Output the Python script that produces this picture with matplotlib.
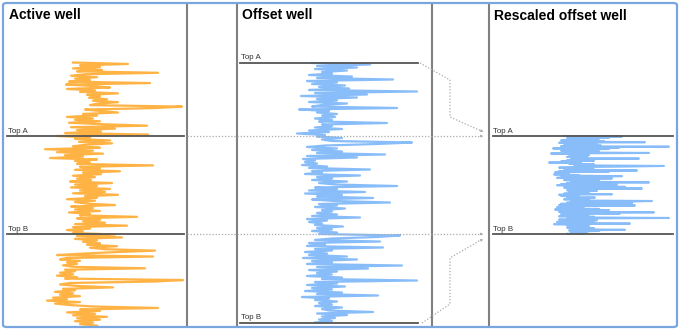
import numpy as np
import matplotlib.pyplot as plt
from matplotlib.patches import FancyBboxPatch, FancyArrowPatch
from matplotlib.lines import Line2D

plt.rcParams['font.family'] = ['Liberation Sans', 'DejaVu Sans']

# formation tops (m)
active_top_a, active_top_b = 2150, 2250
offset_top_a, offset_top_b = 2000, 2260

# gamma ray logs, one sample every 1.5 m
active_start, active_step = 2075, 1.5
active_gr = [
    68, 123, 75, 95, 68, 97, 72, 153, 80, 66,
    92, 70, 85, 64, 145, 61, 88, 105, 62, 90,
    75, 113, 82, 95, 84, 102, 88, 113, 92, 85,
    177, 150, 80, 95, 113, 78, 92, 62, 88, 70,
    95, 64, 98, 142, 66, 110, 72, 96, 60, 143,
    52, 85, 70, 105, 74, 107, 80, 68, 95, 40,
    88, 52, 98, 60, 78, 45, 92, 70, 85, 72,
    148, 75, 95, 70, 115, 78, 96, 68, 90, 72,
    86, 65, 107, 70, 92, 66, 105, 75, 100, 68,
    113, 80, 92, 62, 90, 70, 82, 110, 66, 88,
    70, 95, 64, 85, 75, 132, 72, 95, 78, 100,
    70, 122, 68, 85, 62, 78, 68, 110, 72, 117,
    70, 92, 78, 95, 82, 112, 85, 100, 150, 110,
    78, 52, 148, 62, 55, 75, 62, 72, 58, 68,
    140, 60, 70, 55, 68, 52, 72, 60, 178, 150,
    65, 55, 72, 108, 58, 70, 50, 68, 55, 75,
    48, 62, 42, 75, 50, 65, 88, 153, 75, 95,
    62, 90, 68, 102, 72, 95, 70, 88, 75, 92,
]

offset_start, offset_step = 2000, 1.5
offset_gr = [
    75, 133, 80, 120, 78, 110, 85, 95, 72, 115,
    80, 156, 70, 100, 75, 108, 82, 112, 72, 180,
    78, 130, 64, 120, 80, 100, 72, 110, 85, 75,
    160, 62, 92, 80, 100, 85, 98, 78, 95, 82,
    150, 85, 95, 78, 105, 72, 92, 60, 88, 80,
    105, 85, 95, 175, 140, 88, 70, 100, 75, 105,
    80, 148, 70, 120, 66, 78, 68, 80, 65, 90,
    72, 133, 75, 85, 68, 123, 80, 95, 75, 110,
    82, 98, 160, 78, 100, 72, 128, 68, 105, 80,
    136, 75, 98, 153, 82, 100, 78, 108, 85, 95,
    80, 100, 75, 123, 70, 90, 72, 85, 78, 106,
    80, 95, 75, 100, 82, 163, 140, 95, 78, 143,
    72, 88, 70, 146, 78, 95, 68, 90, 72, 110,
    66, 120, 75, 95, 70, 165, 80, 131, 72, 100,
    80, 95, 70, 105, 85, 180, 78, 100, 70, 108,
    75, 95, 68, 105, 80, 141, 65, 92, 78, 100,
    82, 95, 78, 105, 85, 92, 136, 80, 110, 85,
    98, 82, 95, 78,
]

active_depth = active_start + active_step * np.arange(len(active_gr))
offset_depth = offset_start + offset_step * np.arange(len(offset_gr))
# squeeze the offset log so its tops sit on the active well's tops
scale = (active_top_b - active_top_a) / (offset_top_b - offset_top_a)
rescaled_depth = active_top_a + (offset_depth - offset_top_a) * scale

W, H = 680, 330
fig = plt.figure(figsize=(W / 100, H / 100), dpi=100)

def px_axes(x0, x1, y0, y1):
    return fig.add_axes([x0 / W, 1 - y1 / H, (x1 - x0) / W, (y1 - y0) / H])

ax1 = px_axes(5, 187, 4, 326)
ax2 = px_axes(237, 432, 4, 326)
ax3 = px_axes(489, 676, 4, 326)

orange = '#FFA623'
blue = '#6CADF8'
frame = '#808080'
top_col = '#555555'

ax1.plot(active_gr, active_depth, color=orange, lw=1.6, alpha=0.85)
ax2.plot(offset_gr, offset_depth, color=blue, lw=1.6, alpha=0.8)
ax3.plot(offset_gr, rescaled_depth, color=blue, lw=1.5, alpha=0.8)

ax1.set_xlim(0, 182)
ax2.set_xlim(0, 195)
ax3.set_xlim(0, 187)
ax1.set_ylim(2343.9, 2015.3)
ax2.set_ylim(2263, 1941)
ax3.set_ylim(2343.9, 2015.3)

for ax, sides in [(ax1, ['right']), (ax2, ['left', 'right']), (ax3, ['left'])]:
    ax.set_xticks([])
    ax.set_yticks([])
    ax.patch.set_alpha(0)
    for s in ax.spines:
        ax.spines[s].set_visible(s in sides)
        ax.spines[s].set_color(frame)
        ax.spines[s].set_linewidth(1.5)

def draw_top(ax, depth, label, x0, x1):
    ax.axhline(depth, x0, x1, color=top_col, lw=1.3)
    ax.text(x0 + 0.003, depth - 1.5, label, transform=ax.get_yaxis_transform(),
            fontsize=5.7, color='#333333', va='bottom', ha='left')

draw_top(ax1, active_top_a, 'Top A', 0.011, 0.984)
draw_top(ax1, active_top_b, 'Top B', 0.011, 0.984)
draw_top(ax2, offset_top_a, 'Top A', 0.015, 0.93)
draw_top(ax2, offset_top_b, 'Top B', 0.015, 0.93)
draw_top(ax3, active_top_a, 'Top A', 0.021, 0.984)
draw_top(ax3, active_top_b, 'Top B', 0.021, 0.984)

fig.text(9 / W, 1 - 19 / H, 'Active well', fontsize=10, fontweight='bold', va='baseline')
fig.text(242 / W, 1 - 19 / H, 'Offset well', fontsize=10, fontweight='bold', va='baseline')
fig.text(494 / W, 1 - 20 / H, 'Rescaled offset well', fontsize=10, fontweight='bold', va='baseline')

# outer rounded frame
fig.patches.append(FancyBboxPatch((3 / W, 3 / H), 674 / W, 324 / H,
                                  boxstyle='round,pad=0,rounding_size=0.006',
                                  transform=fig.transFigure, fill=False,
                                  ec='#7AA6E0', lw=1.6))

# tie lines between the wells
dot = dict(color='#aaaaaa', lw=0.9, ls=(0, (1, 1.5)))

def ypx(ax, depth):
    return ax.transData.transform((0, depth))[1]

def tie(xs, ys):
    fig.add_artist(Line2D(np.array(xs) / W, np.array(ys) / H, transform=fig.transFigure, **dot))
    fig.add_artist(FancyArrowPatch(
        (xs[-2] / W, ys[-2] / H), (xs[-1] / W, ys[-1] / H), transform=fig.transFigure,
        arrowstyle='-|>', mutation_scale=5, color='#999999', lw=0, shrinkA=0, shrinkB=0))

ya = ypx(ax1, active_top_a)
yb = ypx(ax1, active_top_b)
yoa = ypx(ax2, offset_top_a)
yob = ypx(ax2, offset_top_b)

tie([187, 483], [ya, ya])
tie([187, 483], [yb, yb])
tie([420, 450, 450, 479, 483], [yoa, yoa - 17, ya + 19, ya + 6, ya + 4.5])
tie([422, 450, 450, 479, 483], [yob, yob + 19, yb - 24, yb - 7, yb - 5.5])

fig.savefig('out.png', dpi=100)
